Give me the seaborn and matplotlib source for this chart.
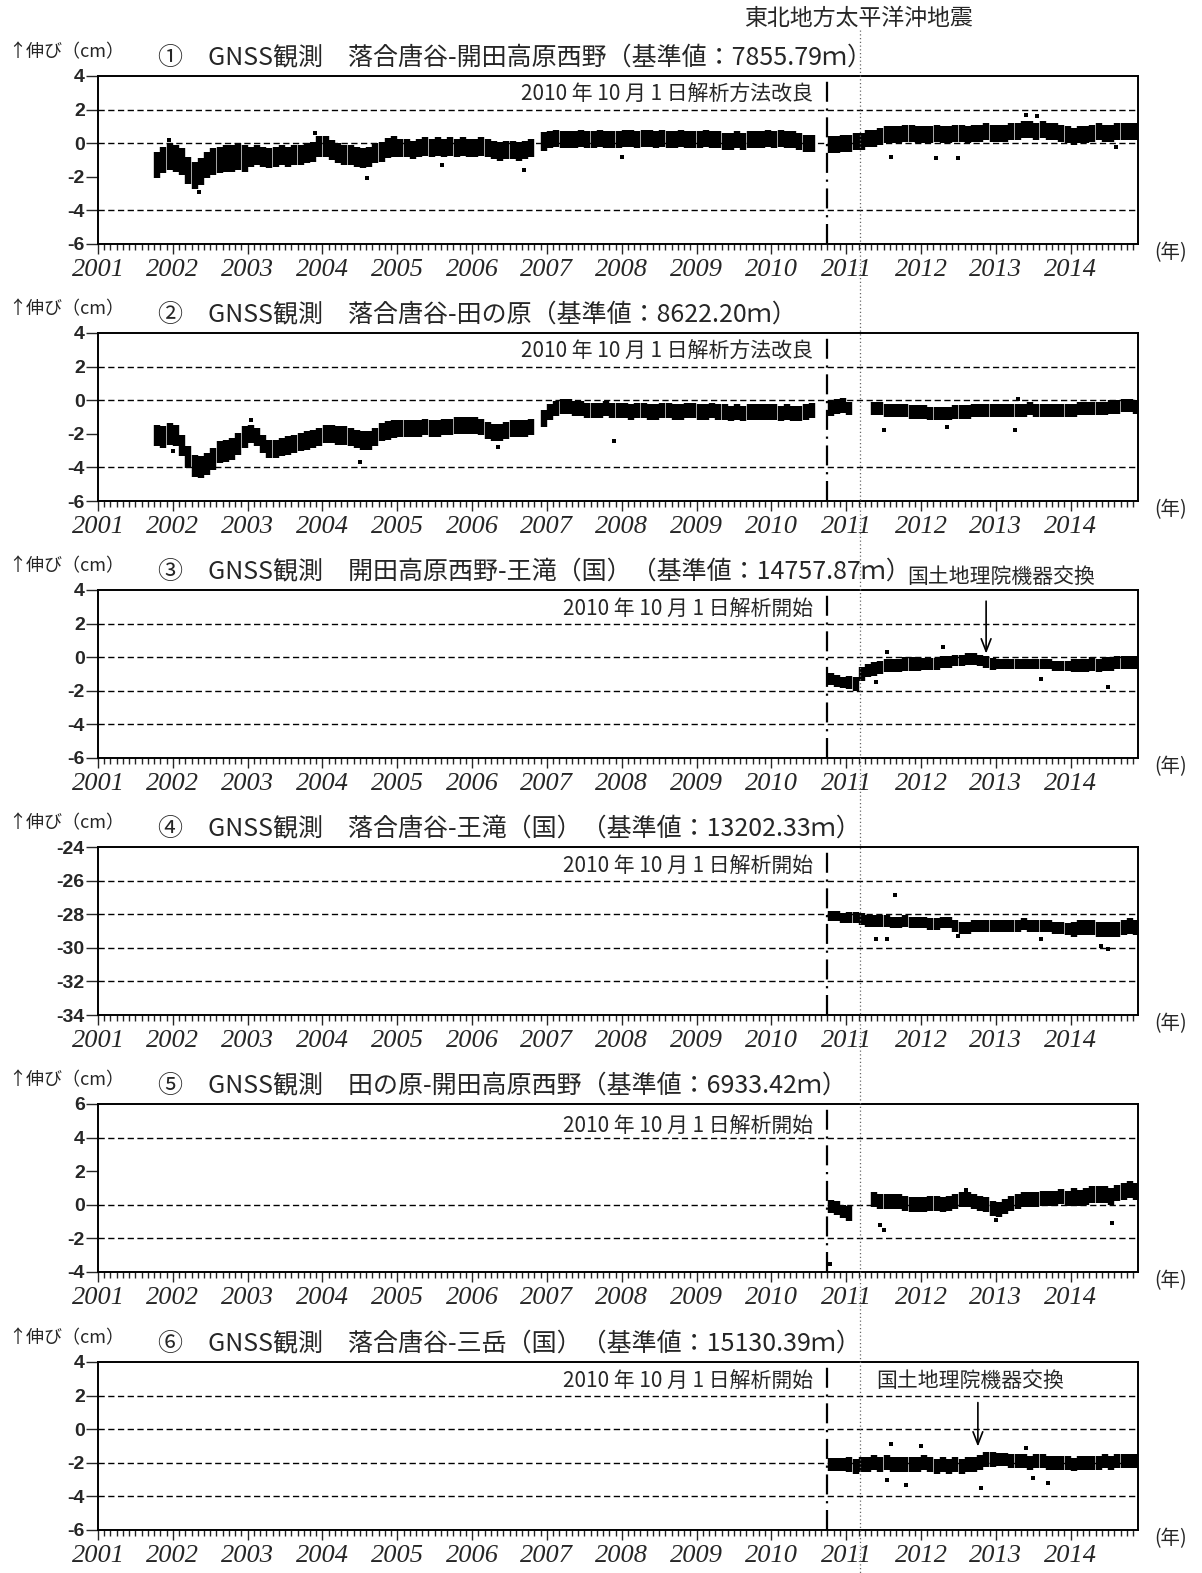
import numpy as np
import pandas as pd
import seaborn as sns
import matplotlib.pyplot as plt
from matplotlib.lines import Line2D
from matplotlib.ticker import MultipleLocator

nan = np.nan

# ---- data (cm), monthly means ----
# panels 1, 2 : first month = Oct 2001 ; panels 3-6 : first month = Oct 2010
p1_center = [-1.3, -1.0, -0.8,
             -0.9, -1.1, -1.6, -1.9, -1.7, -1.3, -1.1, -1.0, -0.9, -0.9, -0.8, -0.9,
             -0.8, -0.7, -0.8, -0.9, -0.8, -0.7, -0.8, -0.7, -0.7, -0.6, -0.5, -0.2,
             -0.2, -0.4, -0.6, -0.7, -0.7, -0.8, -0.9, -0.8, -0.6, -0.5, -0.3, -0.2,
             -0.3, -0.3, -0.4, -0.3, -0.2, -0.3, -0.2, -0.3, -0.2, -0.3, -0.2, -0.3,
             -0.3, -0.2, -0.3, -0.4, -0.5, -0.4, -0.4, -0.5, -0.4, -0.3, nan, 0.1,
             0.2, 0.3, 0.2, 0.2, 0.2, 0.3, 0.2, 0.2, 0.3, 0.2, 0.2, 0.2,
             0.3, 0.3, 0.2, 0.3, 0.3, 0.2, 0.3, 0.2, 0.2, 0.3, 0.2, 0.2,
             0.2, 0.3, 0.2, 0.2, 0.1, 0.1, 0.2, 0.1, 0.2, 0.2, 0.2, 0.3,
             0.2, 0.3, 0.2, 0.2, 0.1, 0.0, 0.0, nan, nan, -0.1, -0.1, 0.0,
             0.0, 0.1, 0.1, 0.3, 0.3, 0.4, 0.5, 0.5, 0.5, 0.6, 0.6, 0.5,
             0.5, 0.5, 0.6, 0.5, 0.5, 0.6, 0.6, 0.5, 0.6, 0.6, 0.7, 0.6,
             0.6, 0.6, 0.7, 0.7, 0.8, 0.8, 0.7, 0.8, 0.7, 0.7, 0.6, 0.5,
             0.4, 0.5, 0.5, 0.6, 0.7, 0.6, 0.6, 0.7, 0.7, 0.7, 0.7]
p1_spread = [0.8, 0.8, 0.6, 0.6, 0.55, 0.55, 0.5, 0.5, 0.5, 0.5, 0.5, 0.5, 0.5, 0.5]

p2_center = [-2.1, -2.2, -2.0,
             -2.1, -2.7, -3.4, -3.9, -4.0, -3.8, -3.5, -3.1, -3.0, -2.9, -2.6, -2.2,
             -2.0, -2.2, -2.6, -2.9, -2.9, -2.8, -2.7, -2.6, -2.5, -2.4, -2.3, -2.2,
             -2.0, -2.0, -2.1, -2.1, -2.2, -2.3, -2.4, -2.4, -2.2, -1.9, -1.8, -1.7,
             -1.7, -1.7, -1.7, -1.7, -1.6, -1.7, -1.7, -1.6, -1.6, -1.5, -1.5, -1.5,
             -1.5, -1.6, -1.8, -1.9, -1.9, -1.8, -1.7, -1.7, -1.7, -1.6, nan, -1.1,
             -0.7, -0.5, -0.4, -0.4, -0.5, -0.5, -0.6, -0.6, -0.6, -0.5, -0.6, -0.6,
             -0.6, -0.7, -0.6, -0.6, -0.7, -0.7, -0.6, -0.6, -0.7, -0.7, -0.6, -0.6,
             -0.7, -0.7, -0.6, -0.7, -0.7, -0.8, -0.7, -0.8, -0.7, -0.7, -0.7, -0.7,
             -0.7, -0.8, -0.7, -0.8, -0.8, -0.7, -0.6, nan, nan, -0.5, -0.4, -0.3,
             -0.5, nan, nan, nan, -0.5, -0.5, -0.6, -0.6, -0.6, -0.6, -0.7, -0.7,
             -0.7, -0.8, -0.8, -0.8, -0.8, -0.7, -0.7, -0.7, -0.6, -0.6, -0.6, -0.6,
             -0.6, -0.6, -0.6, -0.6, -0.6, -0.5, -0.6, -0.6, -0.6, -0.6, -0.6, -0.6,
             -0.6, -0.5, -0.5, -0.5, -0.5, -0.5, -0.4, -0.4, -0.3, -0.3, -0.4]
p2_spread = [0.65, 0.65, 0.55, 0.55, 0.5, 0.5, 0.45, 0.45, 0.45, 0.45, 0.4, 0.4, 0.4, 0.4]

p3_center = [-1.3, -1.4, -1.5,
             -1.5, -1.6, -1.0, -0.8, -0.7, -0.6, -0.5, -0.5, -0.5, -0.4, -0.4, -0.4,
             -0.4, -0.4, -0.4, -0.3, -0.3, -0.2, -0.2, -0.1, -0.1, -0.2, -0.3, -0.4,
             -0.4, -0.4, -0.4, -0.4, -0.4, -0.4, -0.4, -0.4, -0.4, -0.5, -0.5, -0.5,
             -0.5, -0.5, -0.5, -0.4, -0.5, -0.4, -0.4, -0.3, -0.3, -0.3, -0.3]
p3_spread = [0.35, 0.4, 0.35, 0.3, 0.4]

p4_center = [-28.1, -28.1, -28.2,
             -28.2, -28.2, -28.3, -28.4, -28.4, -28.4, -28.4, -28.5, -28.5, -28.4, -28.5, -28.5,
             -28.5, -28.6, -28.6, -28.5, -28.5, -28.7, -28.8, -28.8, -28.7, -28.7, -28.7, -28.7,
             -28.7, -28.7, -28.7, -28.7, -28.6, -28.7, -28.7, -28.7, -28.7, -28.8, -28.8, -28.9,
             -28.9, -28.8, -28.8, -28.8, -28.9, -28.9, -28.9, -28.9, -28.8, -28.7, -28.8]
p4_spread = [0.3, 0.35, 0.35, 0.35, 0.45]

p5_center = [-0.1, -0.2, -0.4,
             -0.5, nan, nan, nan, 0.3, 0.2, 0.2, 0.2, 0.2, 0.1, 0.0, 0.0,
             0.0, 0.1, 0.1, 0.0, 0.1, 0.2, 0.3, 0.3, 0.2, 0.1, 0.0, -0.2,
             -0.3, -0.1, 0.1, 0.2, 0.3, 0.3, 0.3, 0.4, 0.4, 0.4, 0.5, 0.4,
             0.5, 0.4, 0.5, 0.6, 0.6, 0.6, 0.5, 0.7, 0.8, 0.9, 0.8]
p5_spread = [0.4, 0.45, 0.45, 0.45, 0.5]

p6_center = [-2.1, -2.1, -2.1,
             -2.1, -2.2, -2.1, -2.1, -2.0, -2.1, -2.0, -2.1, -2.1, -2.1, -2.1, -2.1,
             -2.0, -2.1, -2.2, -2.1, -2.2, -2.1, -2.2, -2.1, -2.1, -2.0, -1.8, -1.8,
             -1.8, -1.8, -1.9, -1.9, -1.9, -2.0, -1.9, -1.9, -2.0, -2.0, -2.0, -2.0,
             -2.1, -2.0, -2.0, -2.0, -2.0, -1.9, -2.0, -1.9, -1.9, -1.9, -1.9]
p6_spread = [0.4, 0.45, 0.45, 0.4, 0.4]

# stray points (year, cm)
p1_out_t = [2001.95, 2002.35, 2003.9, 2004.6, 2005.6, 2006.7, 2008.0, 2011.6, 2012.2, 2012.5, 2013.4, 2013.55, 2014.6]
p1_out_v = [0.2, -2.9, 0.6, -2.1, -1.3, -1.6, -0.8, -0.8, -0.9, -0.9, 1.7, 1.6, -0.2]
p2_out_t = [2002.0, 2003.05, 2004.5, 2006.35, 2007.9, 2011.5, 2012.35, 2013.25, 2013.3]
p2_out_v = [-3.0, -1.2, -3.7, -2.8, -2.4, -1.8, -1.6, -1.8, 0.1]
p3_out_t = [2011.4, 2011.55, 2012.3, 2013.6, 2014.5]
p3_out_v = [-1.5, 0.3, 0.6, -1.3, -1.8]
p4_out_t = [2011.65, 2011.4, 2011.55, 2012.5, 2013.6, 2014.4, 2014.5]
p4_out_v = [-26.85, -29.5, -29.5, -29.3, -29.5, -29.9, -30.1]
p5_out_t = [2010.78, 2011.45, 2011.5, 2013.0, 2014.55, 2012.6]
p5_out_v = [-3.5, -1.2, -1.5, -0.9, -1.1, 0.9]
p6_out_t = [2011.55, 2011.8, 2012.8, 2013.5, 2013.7, 2012.0, 2013.4, 2011.6]
p6_out_v = [-3.0, -3.3, -3.5, -2.9, -3.2, -1.0, -1.1, -0.9]

titles = ['①　GNSS観測　落合唐谷-開田高原西野（基準値：7855.79ｍ）',
          '②　GNSS観測　落合唐谷-田の原（基準値：8622.20ｍ）',
          '③　GNSS観測　開田高原西野-王滝（国）（基準値：14757.87ｍ）',
          '④　GNSS観測　落合唐谷-王滝（国）（基準値：13202.33ｍ）',
          '⑤　GNSS観測　田の原-開田高原西野（基準値：6933.42ｍ）',
          '⑥　GNSS観測　落合唐谷-三岳（国）（基準値：15130.39ｍ）']
notes = ['2010 年 10 月 1 日解析方法改良'] * 2 + ['2010 年 10 月 1 日解析開始'] * 4
yticks = [[4, 2, 0, -2, -4, -6]] * 3 + [[-24, -26, -28, -30, -32, -34],
                                        [6, 4, 2, 0, -2, -4], [4, 2, 0, -2, -4, -6]]
ygrid = [[2, 0, -4], [2, 0, -4], [2, 0, -2, -4], [-26, -28, -30, -32], [4, 0, -2], [2, 0, -2, -4]]
years = list(range(2001, 2015))

centers = [p1_center, p2_center, p3_center, p4_center, p5_center, p6_center]
spreads = [p1_spread, p2_spread, p3_spread, p4_spread, p5_spread, p6_spread]
starts = [2001, 2001, 2010, 2010, 2010, 2010]
outs = [(p1_out_t, p1_out_v), (p2_out_t, p2_out_v), (p3_out_t, p3_out_v),
        (p4_out_t, p4_out_v), (p5_out_t, p5_out_v), (p6_out_t, p6_out_v)]


def monthly(center, spread, y0):
    # first month is October of y0
    rows = []
    for i, c in enumerate(center):
        m = 9 + i
        t = y0 + (m + 0.5) / 12
        s = spread[m // 12]
        rows.append((t, c - s, c + s))
    return pd.DataFrame(rows, columns=['t', 'lo', 'hi']).dropna()


sns.set_style('ticks')
plt.rcParams['font.family'] = ['Noto Sans CJK JP', 'DejaVu Sans']
plt.rcParams['axes.edgecolor'] = 'black'

W, H = 1202, 1573
fig = plt.figure(figsize=(W / 100, H / 100), dpi=100)


def fx(x):
    return x / W


def fy(y):
    return 1 - y / H


tops = [76, 333, 590, 847, 1104, 1362]
AX_L, AX_R, AX_H = 98, 1138, 168
X0, X1 = 2001, 2014.9
EQ = 2011.19

for k in range(6):
    top = tops[k]
    ax = fig.add_axes([fx(AX_L), fy(top + AX_H), (AX_R - AX_L) / W, AX_H / H])
    yt = yticks[k]
    ax.set_xlim(X0, X1)
    ax.set_ylim(min(yt), max(yt))

    for g in ygrid[k]:
        ax.axhline(g, color='black', lw=1.0, linestyle=(0, (4.5, 2.5)), zorder=1)
    ax.axvline(2010.75, color='black', lw=1.6, linestyle=(0, (9, 3, 1, 3)), zorder=2)

    df = monthly(centers[k], spreads[k], starts[k])
    ax.vlines(df['t'], df['lo'], df['hi'], color='black', lw=4.6, zorder=3)
    sns.scatterplot(x=outs[k][0], y=outs[k][1], ax=ax, color='black', marker='s',
                    s=7, linewidth=0, zorder=3)

    ax.set_xticks(years)
    ax.set_xticklabels([str(y) for y in years], fontfamily='Liberation Serif',
                       style='italic', fontsize=19)
    ax.xaxis.set_minor_locator(MultipleLocator(1 / 12))
    ax.set_yticks(yt)
    ax.set_yticklabels([str(v) for v in yt], fontfamily='Liberation Sans',
                       fontweight='bold', fontsize=14)
    ax.tick_params(axis='x', which='major', direction='out', length=7, width=1, pad=4)
    ax.tick_params(axis='x', which='minor', direction='out', length=4.5, width=1)
    ax.tick_params(axis='y', which='major', direction='out', length=8.5, width=1, pad=1)
    for sp in ax.spines.values():
        sp.set_linewidth(1.4)
        sp.set_color('black')

    # texts
    fig.text(fx(8), fy(top - 24), '↑伸び（cm）', fontsize=13, va='center', ha='left')
    fig.text(fx(158), fy(top - 18), titles[k], fontsize=18, va='center', ha='left')
    note_y = top + 22 if k == 4 else top + 19
    fig.text(fx(813), fy(note_y), notes[k], fontsize=15, va='center', ha='right')
    fig.text(fx(1154), fy(top + AX_H + 9), '(年)', fontsize=14, va='center', ha='left')

    if k == 2:
        fig.text(fx(1001), fy(577), '国土地理院機器交換', fontsize=15, va='center', ha='center')
        ax.annotate('', xy=(2012.87, 0.05), xytext=(2012.87, 3.5),
                    arrowprops=dict(arrowstyle='->,head_length=0.9,head_width=0.35',
                                    color='black', lw=1.2))
    if k == 5:
        fig.text(fx(970), fy(1381), '国土地理院機器交換', fontsize=15, va='center', ha='center')
        ax.annotate('', xy=(2012.76, -1.2), xytext=(2012.76, 1.75),
                    arrowprops=dict(arrowstyle='->,head_length=0.9,head_width=0.35',
                                    color='black', lw=1.2))

# earthquake line through all panels
xq = fx(AX_L) + (EQ - X0) / (X1 - X0) * (AX_R - AX_L) / W
fig.add_artist(Line2D([xq, xq], [fy(30), 0], transform=fig.transFigure,
                      color='#666666', lw=0.9, linestyle=(0, (1, 2))))
fig.text(fx(858), fy(18), '東北地方太平洋沖地震', fontsize=16.5, va='center', ha='center')

fig.savefig('out.png', dpi=100)
